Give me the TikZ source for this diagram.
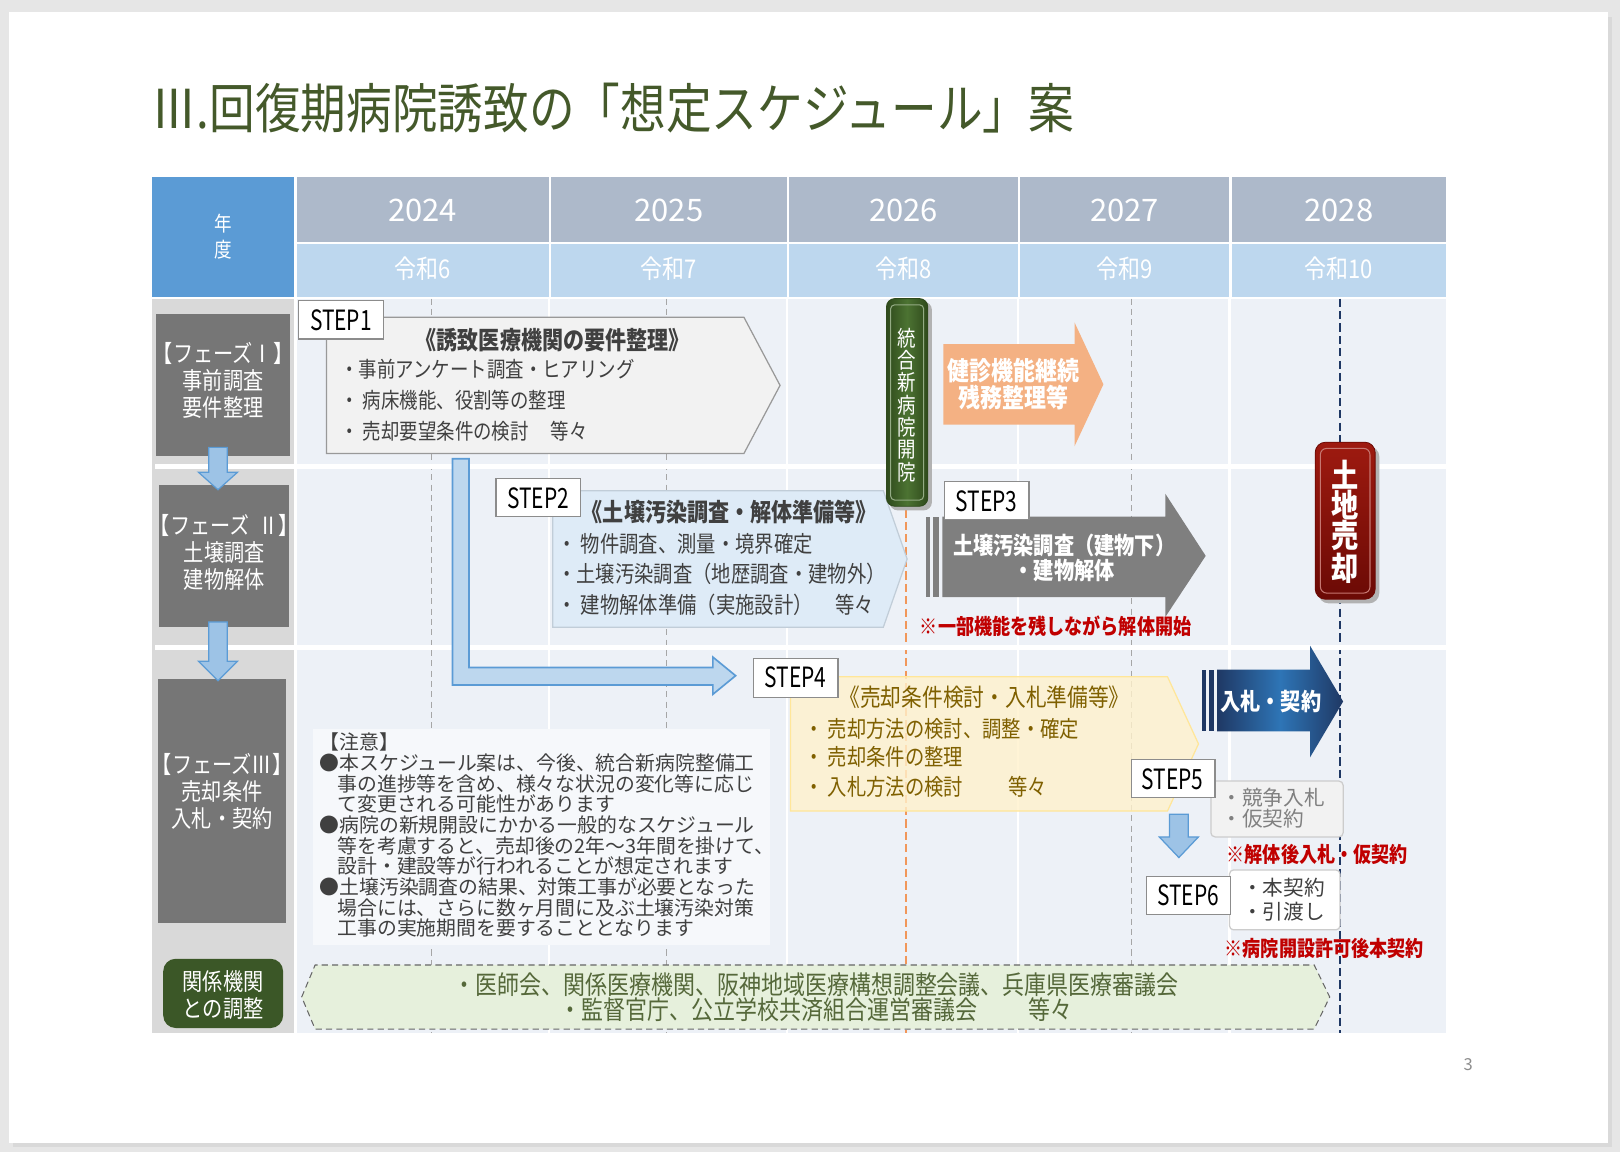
\documentclass[tikz,border=0pt]{standalone}
\usepackage{fontspec}
\setmainfont[FakeStretch=0.85]{Noto Sans CJK JP}
\newfontfamily\plainjp{Noto Sans CJK JP}
\newfontfamily\stepfont[FakeStretch=0.75]{Noto Sans CJK JP}
\newcommand{\fsz}[2]{\fontsize{#1}{#2}\selectfont}

\definecolor{pagegray}{HTML}{E6E6E6}
\definecolor{titlegreen}{HTML}{44592A}
\definecolor{nendo}{HTML}{5B9BD5}
\definecolor{yearhead}{HTML}{ADB9CA}
\definecolor{reiwahead}{HTML}{BDD7EE}
\definecolor{bodybg}{HTML}{EDF1F7}
\definecolor{leftcol}{HTML}{D9D9D9}
\definecolor{phasegray}{HTML}{767676}
\definecolor{txtgray}{HTML}{404040}
\definecolor{arrowblue}{HTML}{9DC3E6}
\definecolor{arrowedge}{HTML}{5B9BD5}
\definecolor{lblue}{HTML}{BDD7EE}
\definecolor{stage1fill}{HTML}{F2F2F2}
\definecolor{stage2fill}{HTML}{DEEBF7}
\definecolor{stage4fill}{HTML}{FFF2CC}
\definecolor{stage4edge}{HTML}{FFE699}
\definecolor{stage4text}{HTML}{7F6000}
\definecolor{peach}{HTML}{F4B183}
\definecolor{orangeline}{HTML}{ED7D31}
\definecolor{arrowgray}{HTML}{7F7F7F}
\definecolor{navy}{HTML}{1F3864}
\definecolor{navymid}{HTML}{2E75B6}
\definecolor{greendark}{HTML}{2F4A1C}
\definecolor{greenmid}{HTML}{4C7332}
\definecolor{redtop}{HTML}{9E1A10}
\definecolor{redbot}{HTML}{6B0A05}
\definecolor{notered}{HTML}{C00000}
\definecolor{notebg}{HTML}{F6F8FB}
\definecolor{palegreen}{HTML}{E6F0DC}
\definecolor{bottomtext}{HTML}{55683A}
\definecolor{boxgreen}{HTML}{3B5727}

\begin{document}
\begin{tikzpicture}
[x=0.5pt,y=-0.5pt,
stepbox/.style={draw=black!45, fill=white, line width=0.6pt},
steptext/.style={draw=none, inner sep=1pt, font=\stepfont\fsz{13.5}{14}},
phasetext/.style={draw=none, inner sep=1pt, align=center, text=white, font=\fsz{11.5}{13}},
bullet/.style={draw=none, inner sep=1pt, anchor=west, text=txtgray, font=\fsz{10.5}{12}},
downarrow/.style={fill=arrowblue, draw=arrowedge, line width=0.6pt},
redtext/.style={draw=none, inner sep=1pt, anchor=west, text=notered, font=\bfseries\fsz{10.3}{12}},
midline/.style={black!35, dash pattern=on 3pt off 2pt, line width=0.5pt},
whitetext/.style={draw=none, inner sep=1pt, align=center, text=white}]

\useasboundingbox (0,0) rectangle (1568,1115);
\fill[pagegray] (0,0) rectangle (1568,1115);
\fill[black!15] (13,16) rectangle (1560,1110);
\fill[white] (9,12) rectangle (1556,1106);

\node[draw=none, anchor=west, inner sep=0pt, text=titlegreen, font=\fsz{26}{27}] (title) at (146,105) {Ⅲ.回復期病院誘致の「想定スケジュール」案};

% header
\fill[nendo] (147,171) rectangle (285,287);
\node[whitetext, font=\fsz{10}{12.5}] (nendo) at (216,229) {年\\度};
\foreach \xa/\xb/\yr/\rw in {287/531/2024/6, 533/762/2025/7, 764/985/2026/8, 987/1190/2027/9, 1192/1400/2028/10}{
  \fill[yearhead] (\xa,171) rectangle (\xb,234);
  \fill[reiwahead] (\xa,236) rectangle (\xb,287);
  \node[whitetext, font=\plainjp\fsz{15}{16}] (yr\yr) at ({(\xa+\xb)/2},204) {\yr};
  \node[whitetext, font=\fsz{12.5}{14}] (rw\rw) at ({(\xa+\xb)/2},260) {令和\rw};
}

% body
\fill[bodybg] (287,289) rectangle (1400,1000);
\fill[leftcol] (147,289) rectangle (285,1000);
\foreach \cx in {531,762,985,1190} \draw[white, line width=1pt] (\cx,289) -- (\cx,1000);
\foreach \cx in {418,645,1095} \draw[midline] (\cx,289) -- (\cx,1000);
\draw[orangeline!80, dash pattern=on 4pt off 2pt, line width=0.8pt] (877,289) -- (877,1000);
\draw[navy, dash pattern=on 4pt off 2pt, line width=0.8pt] (1297,289) -- (1297,1000);
\fill[white] (150,449) rectangle (1400,454);
\fill[white] (150,624) rectangle (1400,629);

% phases
\fill[phasegray] (151,304) rectangle (281,441);
\fill[phasegray] (154,469) rectangle (280,607);
\fill[phasegray] (153,657) rectangle (277,893);
\node[phasetext] (ph1) at (216,368) {【フェーズⅠ】\\事前調査\\要件整理};
\node[phasetext] (ph2) at (217,535) {【フェース\kern-0.3em゛\kern-0.2emⅡ】\\土壌調査\\建物解体};
\node[phasetext] (ph3) at (215,766) {【フェーズⅢ】\\売却条件\\入札・契約};
\draw[downarrow] (202,433) -- (220,433) -- (220,457) -- (230,457) -- (211,474) -- (192,457) -- (202,457) -- cycle;
\draw[downarrow] (202,602) -- (220,602) -- (220,640) -- (230,640) -- (211,659) -- (192,640) -- (202,640) -- cycle;
\fill[boxgreen, rounded corners=6pt] (158,928) rectangle (274,995);
\node[phasetext] (kankei) at (216,963) {関係機関\\との調整};

% step 1
\draw[fill=stage1fill, draw=black!40, line width=0.6pt] (316,307) -- (720,307) -- (755,373) -- (720,439) -- (316,439) -- cycle;
\draw[stepbox] (289,291) rectangle (371,328);
\node[steptext] (step1) at (330,310) {STEP1};
\node[draw=none, inner sep=1pt, text=txtgray, font=\bfseries\fsz{12}{13}] (t1) at (535,329) {《誘致医療機関の要件整理》};
\node[bullet] (b1a) at (327,357) {・事前アンケート調査・ヒアリング};
\node[bullet] (b1b) at (327,387) {・ 病床機能、役割等の整理};
\node[bullet] (b1c) at (327,417) {・ 売却要望条件の検討\quad 等々};

% blue L arrow
\draw[fill=lblue, draw=arrowedge, line width=0.8pt] (438,444) -- (454,444) -- (454,646) -- (690,646) -- (690,636) -- (712,654) -- (690,672) -- (690,663) -- (438,663) -- cycle;

% step 2
\draw[fill=stage2fill, draw=lblue!80!black!60, line width=0.6pt] (535,475) -- (855,475) -- (878,541) -- (855,607) -- (535,607) -- cycle;
\draw[stepbox] (480,463) rectangle (562,500);
\node[steptext] (step2) at (521,482) {STEP2};
\node[draw=none, inner sep=1pt, text=txtgray, font=\bfseries\fsz{12}{13}] (t2) at (706,496) {《土壌汚染調査・解体準備等》};
\node[bullet, font=\fsz{11}{12}] (b2a) at (537,526) {・ 物件調査、測量・境界確定};
\node[bullet, font=\fsz{11}{12}] (b2b) at (537,555) {・土壌汚染調査（地歴調査・建物外）};
\node[bullet, font=\fsz{11}{12}] (b2c) at (537,585) {・ 建物解体準備（実施設計）\quad 等々};

% new hospital opening
\fill[black!30, rounded corners=4pt] (861,292) rectangle (902,494);
\draw[left color=greendark, right color=greendark, middle color=greenmid, draw=greendark, rounded corners=4pt] (858,289) rectangle (898,490);
\draw[greenmid!60!white, line width=0.5pt, rounded corners=2pt] (862,295) rectangle (894,484);
\node[whitetext, font=\fsz{10.5}{10.8}] (open) at (878,392) {統\\合\\新\\病\\院\\開\\院};

% orange arrow
\fill[peach] (913,333) -- (1040,333) -- (1040,312) -- (1068,372) -- (1040,432) -- (1040,411) -- (913,411) -- cycle;
\node[whitetext, font=\bfseries\fsz{12.5}{12}] (kenshin) at (981,372) {健診機能継続\\残務整理等};

% step 3
\fill[arrowgray] (896,500) rectangle (900,578);
\fill[arrowgray] (903,500) rectangle (909,578);
\fill[arrowgray] (912,500) -- (1128,500) -- (1128,478) -- (1167,538) -- (1128,597) -- (1128,578) -- (912,578) -- cycle;
\draw[stepbox] (914,466) rectangle (996,503);
\node[steptext] (step3) at (955,485) {STEP3};
\node[whitetext, font=\bfseries\fsz{11.5}{12}] (kaitai) at (1030,540) {土壌汚染調査（建物下）\\・建物解体};
\node[redtext] (r1) at (888,606) {※一部機能を残しながら解体開始};

% land sale
\fill[black!30, rounded corners=5pt] (1276,432) rectangle (1335,584);
\draw[top color=redtop, bottom color=redbot, draw=redbot, rounded corners=5pt] (1273,428) rectangle (1331,580);
\draw[redtop!60!white, line width=0.5pt, rounded corners=3pt] (1278,434) rectangle (1326,574);
\node[whitetext, font=\bfseries\fsz{15.5}{14.7}] (sale) at (1302,505) {土\\地\\売\\却};

% step 4
\draw[fill=stage4fill, fill opacity=0.8, draw=stage4edge, line width=0.6pt] (765,655) -- (1130,655) -- (1160,720) -- (1130,785) -- (765,785) -- cycle;
\draw[stepbox] (729,637) rectangle (811,675);
\node[steptext] (step4) at (770,656) {STEP4};
\node[draw=none, inner sep=1pt, text=stage4text, font=\fsz{11.8}{13}] (t4) at (953,675) {《売却条件検討・入札準備等》};
\node[bullet, text=stage4text, font=\fsz{11}{12}] (b4a) at (776,705) {・ 売却方法の検討、調整・確定};
\node[bullet, text=stage4text, font=\fsz{11}{12}] (b4b) at (776,733) {・ 売却条件の整理};
\node[bullet, text=stage4text, font=\fsz{11}{12}] (b4c) at (776,762) {・ 入札方法の検討\quad\quad 等々};

% bid and contract
\fill[navy] (1163,648) rectangle (1167,708);
\fill[navy] (1170,648) rectangle (1175,708);
\shade[left color=navy, right color=navy, middle color=navymid] (1178,648) -- (1268,648) -- (1268,625) -- (1300,679) -- (1268,733) -- (1268,708) -- (1178,708) -- cycle;
\node[whitetext, font=\bfseries\fsz{11.5}{12}] (bid) at (1230,679) {入札・契約};

% step 5 and 6
\draw[fill=stage1fill, draw=black!20, line width=0.6pt, rounded corners=2pt] (1172,756) rectangle (1300,810);
\draw[stepbox] (1095,735) rectangle (1176,772);
\node[steptext] (step5) at (1135,754) {STEP5};
\node[draw=none, inner sep=1pt, anchor=west, align=left, text=black!50, font=\plainjp\fsz{10}{10}] (kyoso) at (1180,782) {・競争入札\\・仮契約};
\draw[downarrow] (1132,788) -- (1150,788) -- (1150,810) -- (1160,810) -- (1141,830) -- (1122,810) -- (1132,810) -- cycle;
\node[redtext] (r2) at (1185,827) {※解体後入札・仮契約};
\draw[fill=white, draw=black!20, line width=0.6pt, rounded corners=2pt] (1190,842) rectangle (1297,900);
\draw[stepbox] (1110,848) rectangle (1191,885);
\node[steptext] (step6) at (1150,867) {STEP6};
\node[draw=none, inner sep=1pt, anchor=west, align=left, text=txtgray, font=\plainjp\fsz{10}{11.5}] (honkei) at (1200,871) {・本契約\\・引渡し};
\node[redtext] (r3) at (1183,918) {※病院開設許可後本契約};

% notes
\fill[notebg] (303,706) rectangle (745,915);
\node[draw=none, anchor=north west, inner sep=0pt, align=left, text=txtgray, font=\plainjp\fsz{9.6}{10}] (note) at (309,709) {【注意】\\
●本スケジュール案は、今後、統合新病院整備工\\
\hspace*{0.9em}事の進捗等を含め、様々な状況の変化等に応じ\\
\hspace*{0.9em}て変更される可能性があります\\
●病院の新規開設にかかる一般的なスケジュール\\
\hspace*{0.9em}等を考慮すると、売却後の2年～3年間を掛けて、\\
\hspace*{0.9em}設計・建設等が行われることが想定されます\\
●土壌汚染調査の結果、対策工事が必要となった\\
\hspace*{0.9em}場合には、さらに数ヶ月間に及ぶ土壌汚染対策\\
\hspace*{0.9em}工事の実施期間を要することとなります};

% related agencies
\draw[fill=palegreen, draw=black!60, densely dashed, line width=0.5pt] (292,965) -- (305,934) -- (1272,934) -- (1287,965) -- (1272,996) -- (305,996) -- cycle;
\node[draw=none, inner sep=1pt, align=center, text=bottomtext, font=\fsz{12.5}{12}] (agency) at (790,965) {・医師会、関係医療機関、阪神地域医療構想調整会議、兵庫県医療審議会\\・監督官庁、公立学校共済組合運営審議会\quad\quad 等々};

\node[draw=none, inner sep=1pt, text=black!45, font=\plainjp\fsz{8}{9}] (pnum) at (1421,1030) {3};

\end{tikzpicture}
\end{document}
